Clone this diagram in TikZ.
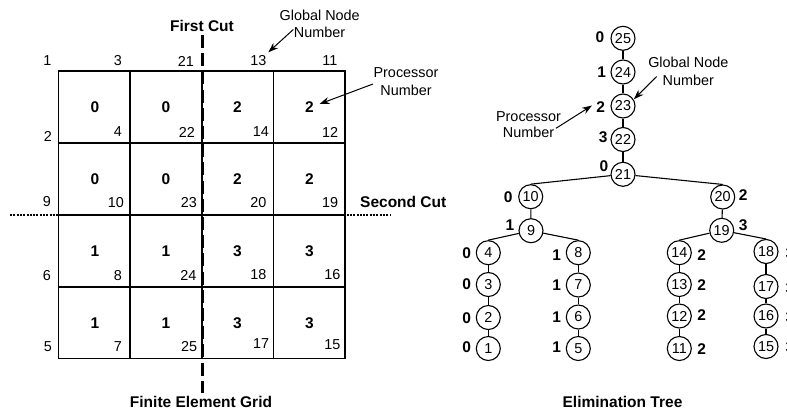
\documentclass[tikz,border=0pt]{standalone}
\usepackage{fontspec}
\setmainfont{Liberation Sans}
\usetikzlibrary{arrows.meta}
\begin{document}
\begin{tikzpicture}[x=1pt,y=-1pt,
  reg/.style={font=\fontsize{14.4}{16}\selectfont, inner sep=0pt},
  bld/.style={font=\fontsize{15.5}{17}\selectfont\bfseries, inner sep=0pt},
  tn/.style={circle, draw, line width=1.1pt, minimum size=24pt, inner sep=0pt, font=\fontsize{14.4}{16}\selectfont},
  edge/.style={line width=1.1pt},
  gridline/.style={line width=1.5pt},
  ann/.style={line width=1pt, -{Stealth[length=10pt,width=7pt]}},
  firstcut/.style={line width=3pt, dash pattern=on 13pt off 5.2pt},
  secondcut/.style={line width=2.5pt, dash pattern=on 2pt off 1.3pt},
]
\useasboundingbox (0,0) rectangle (787,413);

% ---------------- Finite element grid ----------------
\draw[gridline] (58.5,71) rectangle (345,358.5);
\foreach \x in {130,202,273.5} \draw[gridline] (\x,71) -- (\x,358.5);
\foreach \y in {143,215,287} \draw[gridline] (58.5,\y) -- (345,\y);

% cuts
\coordinate (fc1) at (202,35);
\coordinate (fc2) at (202,393);
\draw[firstcut] (fc1) -- (fc2);
\coordinate (sc1) at (10,215);
\coordinate (sc2) at (390,215);
\draw[secondcut] (sc1) -- (sc2);

\node[bld] (firstcut) at (202,26) {First Cut};
\node[bld, anchor=west] (secondcut) at (360,202) {Second Cut};
\node[bld] (fegrid) at (201,401.7) {Finite Element Grid};

% top global node numbers
\node[reg, anchor=east] (g1) at (51.5,61) {1};
\node[reg, anchor=east] (g3) at (122,61) {3};
\node[reg, anchor=east] (g21) at (194,61) {21};
\node[reg, anchor=east] (g13) at (266.5,61) {13};
\node[reg, anchor=east] (g11) at (337.5,61) {11};
% left global node numbers
\node[reg, anchor=east] (g2) at (52,136.7) {2};
\node[reg, anchor=east] (g9) at (51,202) {9};
\node[reg, anchor=east] (g6) at (51,276) {6};
\node[reg, anchor=east] (g5) at (52,347) {5};
% cell corner numbers
\node[reg, anchor=east] (g4) at (122,132) {4};
\node[reg, anchor=east] (g22) at (195,132) {22};
\node[reg, anchor=east] (g14) at (269,131.5) {14};
\node[reg, anchor=east] (g12) at (338.3,132) {12};
\node[reg, anchor=east] (g10) at (124,202.3) {10};
\node[reg, anchor=east] (g23) at (197,202.3) {23};
\node[reg, anchor=east] (g20) at (266.7,202.3) {20};
\node[reg, anchor=east] (g19) at (338.3,202.3) {19};
\node[reg, anchor=east] (g8) at (122,276) {8};
\node[reg, anchor=east] (g24) at (196.7,275) {24};
\node[reg, anchor=east] (g18) at (266.7,275) {18};
\node[reg, anchor=east] (g16) at (340.5,275) {16};
\node[reg, anchor=east] (g7) at (122,346.7) {7};
\node[reg, anchor=east] (g25) at (197.3,347) {25};
\node[reg, anchor=east] (g17) at (269.3,344) {17};
\node[reg, anchor=east] (g15) at (340.5,345) {15};

% processor numbers in cells
\foreach \p/\x/\y [count=\i] in {0/95/107,0/166/107,2/237.5/107,2/309.5/107,
                     0/95/179,0/166/179,2/237.5/179,2/309.5/179,
                     1/95/251,1/166/251,3/237.5/251,3/309.5/251,
                     1/95/323,1/166/323,3/237.5/323,3/309.5/323}
  \node[bld] (cp\i) at (\x,\y) {\p};

% annotations on the grid
\node[reg] (gnA) at (319.7,15) {Global Node};
\node[reg] (gnB) at (319.5,32) {Number};
\coordinate (gnS) at (293.3,29.5);
\coordinate (gnT) at (268.3,52.3);
\draw[ann] (gnS) -- (gnT);
\node[reg] (pnA) at (406,72.7) {Processor};
\node[reg] (pnB) at (406,90) {Number};
\coordinate (pnS) at (373,84);
\coordinate (pnT) at (319.5,104);
\draw[ann] (pnS) -- (pnT);

% ---------------- Elimination tree ----------------
\node[tn] (t25) at (623,38.3) {25};
\node[tn] (t24) at (623,72) {24};
\node[tn] (t23) at (623,106) {23};
\node[tn] (t22) at (623,139.5) {22};
\node[tn] (t21) at (623,174.3) {21};
\node[tn] (t10) at (530.7,196.7) {10};
\node[tn] (t20) at (722.7,197) {20};
\node[tn] (t9) at (531,230.7) {9};
\node[tn] (t19) at (721.7,230.3) {19};
\node[tn] (t4) at (488.3,252.7) {4};
\node[tn] (t3) at (488.3,284.5) {3};
\node[tn] (t2) at (488.3,317.5) {2};
\node[tn] (t1) at (488.3,348.5) {1};
\node[tn] (t8) at (578.3,252.7) {8};
\node[tn] (t7) at (578.3,285) {7};
\node[tn] (t6) at (578.3,317) {6};
\node[tn] (t5) at (578.3,348.5) {5};
\node[tn] (t14) at (679.3,252.7) {14};
\node[tn] (t13) at (679.3,284.5) {13};
\node[tn] (t12) at (679.3,316) {12};
\node[tn] (t11) at (679.3,348.5) {11};
\node[tn] (t18) at (766,251.5) {18};
\node[tn] (t17) at (766,286.5) {17};
\node[tn] (t16) at (766,316) {16};
\node[tn] (t15) at (766,346.5) {15};

\draw[edge] (t25) -- (t24) -- (t23) -- (t22) -- (t21);
\draw[edge] (t21) -- (t10.north);
\draw[edge] (t21) -- (t20.north);
\draw[edge] (t10) -- (t9);
\draw[edge] (t20) -- (t19);
\draw[edge] (t9) -- (t4.north);
\draw[edge] (t9) -- (t8.north);
\draw[edge] (t19) -- (t14.north);
\draw[edge] (t19) -- (t18.north);
\draw[edge] (t4) -- (t3) -- (t2) -- (t1);
\draw[edge] (t8) -- (t7) -- (t6) -- (t5);
\draw[edge] (t14) -- (t13) -- (t12) -- (t11);
\draw[edge] (t18) -- (t17) -- (t16) -- (t15);

% processor labels on the tree
\node[bld] (p25) at (600,37) {0};
\node[bld] (p24) at (601.7,71.7) {1};
\node[bld] (p23) at (600.7,107) {2};
\node[bld] (p22) at (603.3,136.7) {3};
\node[bld] (p21) at (604,165.7) {0};
\node[bld] (p10) at (508.3,196.7) {0};
\node[bld] (p20) at (743.3,195.5) {2};
\node[bld] (p9) at (510,225) {1};
\node[bld] (p19) at (743.3,225.5) {3};
\node[bld] (p4) at (466.7,253) {0};
\node[bld] (p3) at (466.7,284.5) {0};
\node[bld] (p2) at (466.7,318) {0};
\node[bld] (p1) at (466.7,347.5) {0};
\node[bld] (p8) at (556.7,255) {1};
\node[bld] (p7) at (556.7,285.5) {1};
\node[bld] (p6) at (556.7,317.5) {1};
\node[bld] (p5) at (556.7,347.5) {1};
\node[bld] (p14) at (701.7,255) {2};
\node[bld] (p13) at (701.7,285.5) {2};
\node[bld] (p12) at (701.7,315.5) {2};
\node[bld] (p11) at (701.7,349.5) {2};
\node[bld] (p18) at (790,253) {3};
\node[bld] (p17) at (790,288) {3};
\node[bld] (p16) at (790,317) {3};
\node[bld] (p15) at (790,347) {3};

% annotations on the tree
\node[reg] (tpA) at (528.5,116.7) {Processor};
\node[reg] (tpB) at (528.5,132.7) {Number};
\coordinate (tpS) at (556,128.3);
\coordinate (tpT) at (592,105.5);
\draw[ann] (tpS) -- (tpT);
\node[reg] (tgA) at (688.3,62.3) {Global Node};
\node[reg] (tgB) at (688.3,80) {Number};
\coordinate (tgS) at (656.7,76.5);
\coordinate (tgT) at (633.8,99.3);
\draw[ann] (tgS) -- (tgT);

\node[bld] (etree) at (622.5,401.7) {Elimination Tree};
\end{tikzpicture}
\end{document}
